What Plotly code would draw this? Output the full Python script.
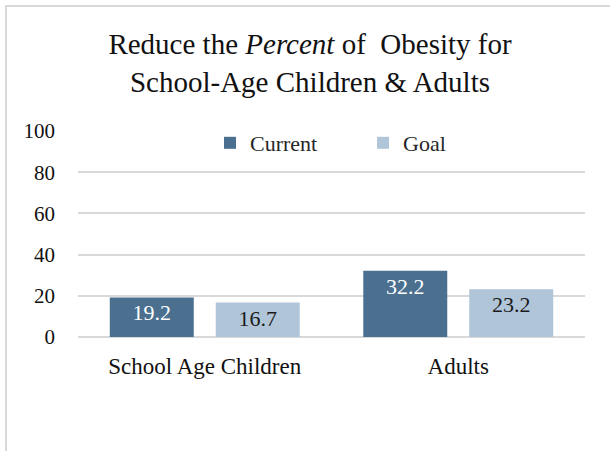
import plotly.graph_objects as go

categories = ["School Age Children", "Adults"]
current = [19.2, 32.2]
goal = [16.7, 23.2]
series_names = ["Current", "Goal"]
y_ticks = [0, 20, 40, 60, 80, 100]

W, H = 610, 451
ML, MR, MT, MB = 78, 25, 131, 114
PW = W - ML - MR
PH = H - MT - MB

FONT = "Liberation Serif"

fig = go.Figure()
fig.add_trace(go.Bar(
    x=categories, y=current, name=series_names[0],
    marker=dict(color="#4a6f8f", line=dict(width=0)),
    text=[f"{v:.1f}" for v in current], textposition="inside",
    insidetextanchor="end", constraintext="none",
    textfont=dict(family=FONT, size=22, color="white"),
))
fig.add_trace(go.Bar(
    x=categories, y=goal, name=series_names[1],
    marker=dict(color="#b0c5d8", line=dict(width=0)),
    text=[f"{v:.1f}" for v in goal], textposition="inside",
    insidetextanchor="end", constraintext="none",
    textfont=dict(family=FONT, size=22, color="#1a1a1a"),
))

def px_to_paper_x(p):
    return (p - ML) / PW

def px_to_paper_y(p):
    return (H - MB - p) / PH

fig.update_layout(
    width=W, height=H,
    margin=dict(l=ML, r=MR, t=MT, b=MB),
    paper_bgcolor="white", plot_bgcolor="white",
    barmode="group", bargap=0.164, bargroupgap=0.2075,
    title=dict(
        text="Reduce the <i>Percent</i> of  Obesity for<br>School-Age Children &amp; Adults",
        x=310 / W, xanchor="center", xref="container",
        y=1 - 54 / H, yanchor="top", yref="container",
        font=dict(family=FONT, size=29, color="#111111"),
    ),
    font=dict(family=FONT, color="#262626"),
    legend=dict(
        orientation="h", x=px_to_paper_x(210), xanchor="left",
        y=px_to_paper_y(143), yanchor="middle",
        font=dict(family=FONT, size=22, color="#262626"),
        bgcolor="rgba(0,0,0,0)", entrywidth=108, traceorder="normal",
        itemwidth=30,
    ),
    xaxis=dict(
        showgrid=False, showline=False, ticks="",
        ticklabelstandoff=13,
        tickfont=dict(family=FONT, size=23, color="#111111"),
    ),
    yaxis=dict(
        range=[0, 100], tickvals=y_ticks, showgrid=True,
        gridcolor="#d9d9d9", gridwidth=1.5, zeroline=True,
        zerolinecolor="#d9d9d9", zerolinewidth=1.5,
        showline=False, ticks="", ticklabelstandoff=22,
        tickfont=dict(family=FONT, size=21, color="#111111"),
    ),
    shapes=[dict(
        type="rect", xref="paper", yref="paper",
        x0=px_to_paper_x(6), x1=px_to_paper_x(W + 20),
        y0=px_to_paper_y(H + 20), y1=px_to_paper_y(6),
        line=dict(color="#d9d9d9", width=2), fillcolor="rgba(0,0,0,0)",
        layer="below",
    )],
)

fig.write_html("out.html")
